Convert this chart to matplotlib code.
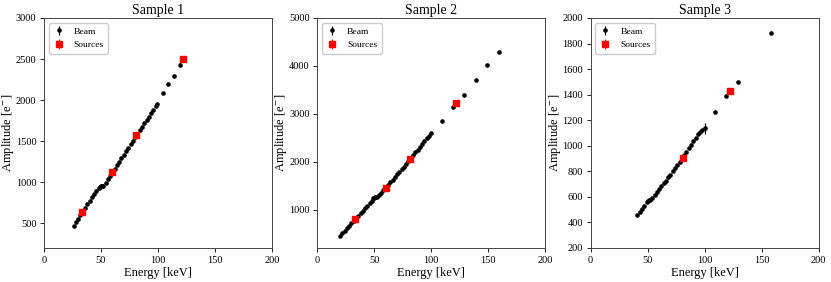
#!/usr/bin/env python3
# Energy calibration of three samples: beam scan points and radioactive source lines.

import matplotlib
matplotlib.use("Agg")
import matplotlib.pyplot as plt

plt.rcParams["font.family"] = ["Liberation Serif", "DejaVu Serif"]
plt.rcParams["mathtext.fontset"] = "stix"

# --- Sample 1 ---
s1_beam_e = [26, 28, 30, 32, 34, 36, 38, 40, 42, 44, 46, 48, 49, 50, 51, 52,
             54, 56, 58, 60, 62, 64, 66, 68, 70, 72, 74, 76, 78, 80, 82, 84,
             86, 88, 90, 92, 94, 96, 98, 99, 104, 109, 114, 119]
s1_beam_a = [468, 512, 556, 600, 644, 688, 730, 772, 815, 856, 898, 935, 946, 950, 954, 960,
             995, 1035, 1080, 1122, 1165, 1208, 1250, 1294, 1336, 1380, 1422, 1465, 1506, 1548, 1590, 1632,
             1674, 1716, 1758, 1800, 1842, 1884, 1926, 1949, 2083, 2196, 2294, 2430]
s1_beam_err = [4] * 43 + [30]
s1_src_e = [33, 60, 81, 122]
s1_src_a = [635, 1129, 1571, 2505]
s1_src_err = [8, 10, 12, 15]

# --- Sample 2 ---
s2_beam_e = [20, 22, 24, 26, 28, 30, 32, 34, 36, 38, 40, 42, 44, 46, 48, 49, 50, 51, 52,
             54, 56, 58, 60, 62, 64, 66, 68, 70, 72, 74, 76, 78, 80, 82, 84, 86, 88,
             90, 92, 94, 96, 98, 100, 109, 119, 129, 139, 149, 159]
s2_beam_a = [458, 510, 562, 614, 666, 718, 770, 822, 874, 926, 978, 1030, 1082, 1134, 1190, 1235, 1250, 1258, 1265,
             1300, 1350, 1405, 1460, 1515, 1570, 1625, 1680, 1735, 1790, 1845, 1900, 1960, 2020, 2080, 2140, 2200, 2255,
             2315, 2375, 2430, 2490, 2545, 2590, 2854, 3132, 3403, 3708, 4014, 4285]
s2_beam_err = [5] * 49
s2_src_e = [33, 60, 81, 122]
s2_src_a = [806, 1460, 2049, 3222]
s2_src_err = [12, 14, 16, 20]

# --- Sample 3 ---
s3_beam_e = [41, 43, 45, 47, 49, 50, 51, 52, 54, 56, 58, 60, 62, 64, 66, 68, 70, 72,
             74, 76, 78, 80, 82, 84, 86, 88, 90, 92, 94, 96, 98, 100, 109, 119, 129, 158]
s3_beam_a = [460, 483, 507, 532, 560, 567, 572, 576, 595, 615, 637, 660, 682, 705, 728, 752, 775, 800,
             825, 850, 875, 900, 927, 953, 980, 1007, 1035, 1062, 1090, 1108, 1122, 1136, 1264, 1390, 1502, 1883]
s3_beam_err = [3] * 31 + [40, 4, 4, 4, 4]
s3_src_e = [81, 122]
s3_src_a = [905, 1431]
s3_src_err = [8, 10]

samples = [
    ("Sample 1", s1_beam_e, s1_beam_a, s1_beam_err, s1_src_e, s1_src_a, s1_src_err, (200, 3000), [500, 1000, 1500, 2000, 2500, 3000]),
    ("Sample 2", s2_beam_e, s2_beam_a, s2_beam_err, s2_src_e, s2_src_a, s2_src_err, (200, 5000), [1000, 2000, 3000, 4000, 5000]),
    ("Sample 3", s3_beam_e, s3_beam_a, s3_beam_err, s3_src_e, s3_src_a, s3_src_err, (200, 2000), list(range(200, 2001, 200))),
]

fig = plt.figure(figsize=(8.31, 2.82), dpi=100)
lefts = [0.0529, 0.3818, 0.7108]

for left, (title, be, ba, berr, se, sa, serr, ylim, yticks) in zip(lefts, samples):
    ax = fig.add_axes([left, 0.1206, 0.2744, 0.8156])
    ax.errorbar(be, ba, yerr=berr, fmt="o", color="black", markersize=2.3, elinewidth=0.8,
                capsize=0, label="Beam", zorder=3)
    ax.errorbar(se, sa, yerr=serr, fmt="s", color="red", markersize=4.2, elinewidth=0.8,
                capsize=0, label="Sources", zorder=4)
    ax.set_xlim(0, 200)
    ax.set_ylim(*ylim)
    ax.set_xticks([0, 50, 100, 150, 200])
    ax.set_yticks(yticks)
    ax.tick_params(labelsize=7.5, length=3, width=0.6, pad=2.5)
    for sp in ax.spines.values():
        sp.set_linewidth(0.7)
        sp.set_color("#444444")
    ax.set_title(title, fontsize=10, pad=3)
    ax.set_xlabel("Energy [keV]", fontsize=9, labelpad=2)
    ax.set_ylabel("Amplitude [e$^{-}$]", fontsize=9)
    ax.yaxis.set_label_coords(-0.123, 0.5)
    ax.legend(loc="upper left", fontsize=6.8, handlelength=1.2, borderpad=0.45,
              labelspacing=0.55, handletextpad=1.0, framealpha=1.0)

fig.savefig("out.png", dpi=100)
